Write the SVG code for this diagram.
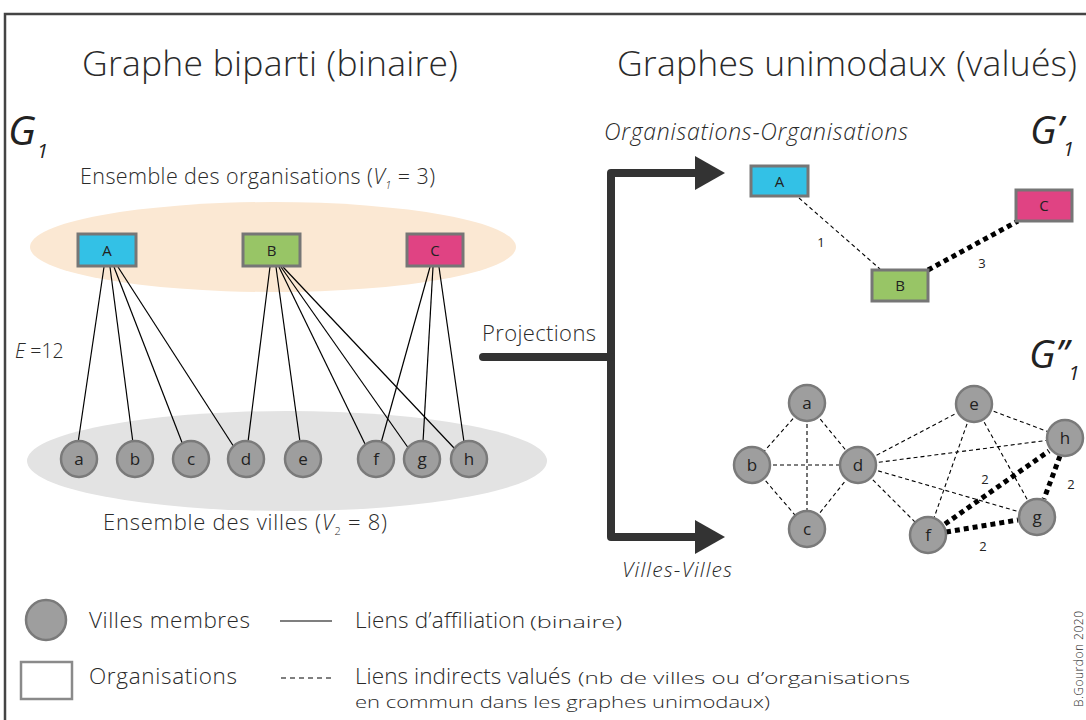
<svg xmlns="http://www.w3.org/2000/svg" width="1086" height="720" viewBox="0 0 1086 720">
<style>
  .t{font-family:"Open Sans","Liberation Sans",Arial,sans-serif;font-weight:300;fill:#2a2a2a}
  .it{font-style:italic}
  .gl{font-family:"Open Sans","Liberation Sans",Arial,sans-serif;font-weight:400;font-style:italic;fill:#222}
  .lbl{font-family:"Open Sans","Liberation Sans",sans-serif;fill:#222;text-anchor:middle}
  .org{stroke:#767676;stroke-width:3}
  .city{fill:#9e9e9e;stroke:#7a7a7a;stroke-width:2.5}
  .aff{stroke:#000;stroke-width:1.2;fill:none}
  .dash{stroke:#000;stroke-width:1.1;stroke-dasharray:4 3;fill:none}
  .dot{stroke:#000;stroke-width:5;stroke-dasharray:5 4;fill:none}
  .arrow{stroke:#333;stroke-width:8;fill:none;stroke-linejoin:round;stroke-linecap:round}
  .num{font-family:"Open Sans","Liberation Sans",sans-serif;font-size:13px;fill:#222;text-anchor:middle}
</style>
<rect x="0" y="0" width="1086" height="720" fill="#fff"/>
<path d="M5 720 V14 H1086" fill="none" stroke="#444" stroke-width="2.5"/>

<!-- titles -->
<text class="t" x="82" y="76" font-size="35.5" textLength="376" lengthAdjust="spacing">Graphe biparti (binaire)</text>
<text class="t" x="617" y="76" font-size="35.5" textLength="460" lengthAdjust="spacing">Graphes unimodaux (valués)</text>

<text class="gl" x="8" y="145" font-size="41">G<tspan font-size="20" dx="1" dy="13">1</tspan></text>
<text class="t" x="80" y="184" font-size="21.5" textLength="355" lengthAdjust="spacing">Ensemble des organisations (<tspan class="it">V</tspan><tspan font-size="11" class="it" dy="5">1</tspan><tspan dy="-5"> = 3)</tspan></text>

<ellipse cx="273" cy="247" rx="243" ry="45" fill="#fbe8d3"/>
<ellipse cx="287" cy="461" rx="260" ry="50" fill="#e3e3e3"/>

<text class="t it" x="15" y="358" font-size="19.5">E<tspan font-style="normal"> =12</tspan></text>
<text class="t" x="103" y="530" font-size="22" textLength="284" lengthAdjust="spacing">Ensemble des villes (<tspan class="it">V</tspan><tspan font-size="11" dy="5">2</tspan><tspan dy="-5"> = 8)</tspan></text>

<!-- connectors -->
<g id="connectors">
  <g id="bipartite-links">
    <line class="aff" x1="104" y1="267" x2="78" y2="443"/>
    <line class="aff" x1="110" y1="267" x2="133" y2="443"/>
    <line class="aff" x1="114" y1="267" x2="183" y2="445"/>
    <line class="aff" x1="118" y1="267" x2="234" y2="447"/>
    <line class="aff" x1="270" y1="267" x2="248" y2="442"/>
    <line class="aff" x1="276" y1="267" x2="300" y2="442"/>
    <line class="aff" x1="279" y1="267" x2="366" y2="446"/>
    <line class="aff" x1="281" y1="267" x2="409" y2="449"/>
    <line class="aff" x1="283" y1="267" x2="455" y2="449"/>
    <line class="aff" x1="430" y1="267" x2="381" y2="443"/>
    <line class="aff" x1="433" y1="267" x2="423" y2="442"/>
    <line class="aff" x1="439" y1="267" x2="464" y2="442"/>
  </g>
  <g id="projection-arrows">
    <path class="arrow" d="M698 173 H611 V537 H698"/>
    <path class="arrow" d="M483 357 H611"/>
    <polygon points="695,156 725,173 695,190" fill="#333"/>
    <polygon points="695,520 725,537 695,554" fill="#333"/>
  </g>
  <g id="org-links">
    <line class="dash" x1="799" y1="198" x2="880" y2="269"/>
    <line class="dot" x1="928" y1="270" x2="1018" y2="221"/>
  </g>
  <g id="city-links">
    <line class="dash" x1="807" y1="403" x2="752" y2="465"/>
    <line class="dash" x1="807" y1="403" x2="807" y2="529"/>
    <line class="dash" x1="807" y1="403" x2="858" y2="465"/>
    <line class="dash" x1="752" y1="465" x2="858" y2="465"/>
    <line class="dash" x1="752" y1="465" x2="807" y2="529"/>
    <line class="dash" x1="807" y1="529" x2="858" y2="465"/>
    <line class="dash" x1="858" y1="465" x2="974" y2="404"/>
    <line class="dash" x1="858" y1="465" x2="1065" y2="438"/>
    <line class="dash" x1="858" y1="465" x2="928" y2="535"/>
    <line class="dash" x1="858" y1="465" x2="1037" y2="517"/>
    <line class="dash" x1="974" y1="404" x2="928" y2="535"/>
    <line class="dash" x1="974" y1="404" x2="1037" y2="517"/>
    <line class="dash" x1="974" y1="404" x2="1065" y2="438"/>
    <line class="dot" x1="945" y1="524" x2="1049" y2="451"/>
    <line class="dot" x1="1060" y1="456" x2="1044" y2="499"/>
    <line class="dot" x1="946" y1="532" x2="1018" y2="520"/>
  </g>
</g>

<text class="num" x="821" y="247">1</text>
<text class="num" x="982" y="268">3</text>
<text class="num" x="985" y="484">2</text>
<text class="num" x="1071" y="489">2</text>
<text class="num" x="983" y="551">2</text>

<!-- bipartite nodes -->
<g id="org-A"><rect class="org" x="78" y="234" width="58" height="32" fill="#33c1e6"/><text class="lbl" x="107" y="256" font-size="15">A</text></g>
<g id="org-B"><rect class="org" x="243" y="234" width="57" height="32" fill="#98c566"/><text class="lbl" x="271.5" y="256" font-size="15">B</text></g>
<g id="org-C"><rect class="org" x="407" y="234" width="56" height="32" fill="#e04383"/><text class="lbl" x="435" y="256" font-size="15">C</text></g>

<g id="city-a"><circle class="city" cx="79" cy="459" r="18"/><text class="lbl" x="79" y="465" font-size="17">a</text></g>
<g id="city-b"><circle class="city" cx="135" cy="459" r="18"/><text class="lbl" x="135" y="465" font-size="17">b</text></g>
<g id="city-c"><circle class="city" cx="191" cy="459" r="18"/><text class="lbl" x="191" y="465" font-size="17">c</text></g>
<g id="city-d"><circle class="city" cx="246" cy="459" r="18"/><text class="lbl" x="246" y="465" font-size="17">d</text></g>
<g id="city-e"><circle class="city" cx="303" cy="459" r="18"/><text class="lbl" x="303" y="465" font-size="17">e</text></g>
<g id="city-f"><circle class="city" cx="376" cy="459" r="18"/><text class="lbl" x="376" y="465" font-size="17">f</text></g>
<g id="city-g"><circle class="city" cx="422" cy="459" r="18"/><text class="lbl" x="422" y="465" font-size="17">g</text></g>
<g id="city-h"><circle class="city" cx="469" cy="459" r="18"/><text class="lbl" x="469" y="465" font-size="17">h</text></g>

<text class="t" x="482" y="341" font-size="22" textLength="114" lengthAdjust="spacing">Projections</text>

<!-- G'1 -->
<text class="t it" x="604" y="140" font-size="23" textLength="304" lengthAdjust="spacing">Organisations-Organisations</text>
<text class="gl" x="1030" y="144" font-size="39">G’<tspan font-size="20" dy="12">1</tspan></text>
<g id="proj-A"><rect class="org" x="751" y="166" width="57" height="30" fill="#33c1e6"/><text class="lbl" x="779.5" y="187" font-size="15">A</text></g>
<g id="proj-B"><rect class="org" x="872" y="270" width="56" height="31" fill="#98c566"/><text class="lbl" x="900" y="291" font-size="15">B</text></g>
<g id="proj-C"><rect class="org" x="1016" y="190" width="56" height="31" fill="#e04383"/><text class="lbl" x="1044" y="211" font-size="15">C</text></g>

<!-- G''1 -->
<text class="gl" x="1029" y="368" font-size="39">G’’<tspan font-size="20" dy="12">1</tspan></text>
<g id="proj-a"><circle class="city" cx="807" cy="403" r="18"/><text class="lbl" x="807" y="409" font-size="17">a</text></g>
<g id="proj-b"><circle class="city" cx="752" cy="465" r="18"/><text class="lbl" x="752" y="471" font-size="17">b</text></g>
<g id="proj-c"><circle class="city" cx="807" cy="529" r="18"/><text class="lbl" x="807" y="535" font-size="17">c</text></g>
<g id="proj-d"><circle class="city" cx="858" cy="465" r="18"/><text class="lbl" x="858" y="471" font-size="17">d</text></g>
<g id="proj-e"><circle class="city" cx="974" cy="404" r="18"/><text class="lbl" x="974" y="410" font-size="17">e</text></g>
<g id="proj-h"><circle class="city" cx="1065" cy="438" r="18"/><text class="lbl" x="1065" y="444" font-size="17">h</text></g>
<g id="proj-g"><circle class="city" cx="1037" cy="517" r="18"/><text class="lbl" x="1037" y="523" font-size="17">g</text></g>
<g id="proj-f"><circle class="city" cx="928" cy="535" r="18"/><text class="lbl" x="928" y="541" font-size="17">f</text></g>

<text class="t it" x="622" y="577" font-size="21" textLength="110" lengthAdjust="spacing">Villes-Villes</text>

<!-- legend -->
<g id="legend">
  <circle class="city" cx="46" cy="620" r="20"/>
  <text class="t" x="89" y="628" font-size="22.5" textLength="161" lengthAdjust="spacing">Villes membres</text>
  <line x1="280" y1="621" x2="332" y2="621" stroke="#000" stroke-width="1.2"/>
  <text class="t" x="355" y="628" font-size="22.5" textLength="170" lengthAdjust="spacing">Liens d’affiliation</text>
  <text class="t" x="530" y="628" font-size="17" textLength="92" lengthAdjust="spacingAndGlyphs">(binaire)</text>
  <rect x="21" y="662" width="51" height="37" fill="#fff" stroke="#8a8a8a" stroke-width="2.5"/>
  <text class="t" x="89" y="684" font-size="22.5" textLength="148" lengthAdjust="spacing">Organisations</text>
  <line x1="281" y1="678" x2="333" y2="678" stroke="#000" stroke-width="1.1" stroke-dasharray="5 4"/>
  <text class="t" x="355" y="684" font-size="22.5" textLength="216" lengthAdjust="spacing">Liens indirects valués</text>
  <text class="t" x="578" y="684" font-size="17" textLength="332" lengthAdjust="spacingAndGlyphs">(nb de villes ou d’organisations</text>
  <text class="t" x="355" y="708" font-size="17" textLength="415" lengthAdjust="spacingAndGlyphs">en commun dans les graphes unimodaux)</text>
</g>

<text class="t" transform="translate(1083,707) rotate(-90)" font-size="12" fill="#555" textLength="96" lengthAdjust="spacing">B.Gourdon 2020</text>
</svg>
